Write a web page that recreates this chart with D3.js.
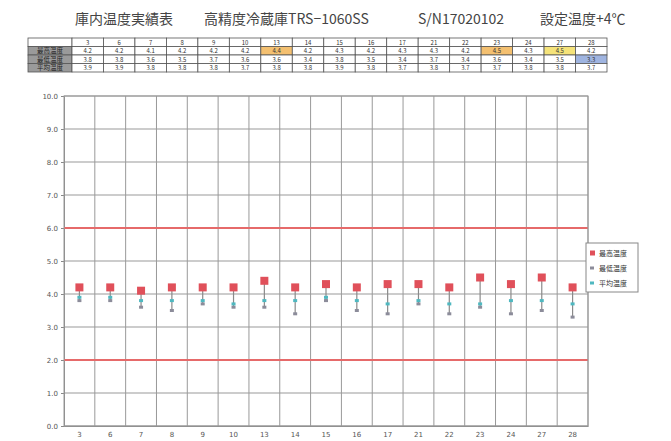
<!DOCTYPE html>
<html>
<head>
<meta charset="utf-8">
<script src="https://cdn.jsdelivr.net/npm/d3@7"></script>
<style>
  body { margin: 0; background: #fff; }
  text { font-family: "Noto Sans CJK JP", "DejaVu Sans", sans-serif; }
</style>
</head>
<body>
<div id="chart-area"></div>
<script>
// data
const days = ['3', '6', '7', '8', '9', '10', '13', '14', '15', '16', '17', '21', '22', '23', '24', '27', '28'];
const maxTemp = [4.2, 4.2, 4.1, 4.2, 4.2, 4.2, 4.4, 4.2, 4.3, 4.2, 4.3, 4.3, 4.2, 4.5, 4.3, 4.5, 4.2];
const minTemp = [3.8, 3.8, 3.6, 3.5, 3.7, 3.6, 3.6, 3.4, 3.8, 3.5, 3.4, 3.7, 3.4, 3.6, 3.4, 3.5, 3.3];
const avgTemp = [3.9, 3.9, 3.8, 3.8, 3.8, 3.7, 3.8, 3.8, 3.9, 3.8, 3.7, 3.8, 3.7, 3.7, 3.8, 3.8, 3.7];
const yTicks = [0, 1, 2, 3, 4, 5, 6, 7, 8, 9, 10];
const limits = [6, 2];
const seriesNames = ['最高温度', '最低温度', '平均温度'];
const titleParts = ['庫内温度実績表', '高精度冷蔵庫TRS−1060SS', 'S/N17020102', '設定温度+4℃'];

const width = 671, height = 441;
const plot = { left: 64, right: 588, top: 96, bottom: 426 };

const svg = d3.select('#chart-area').append('svg')
    .attr('width', width)
    .attr('height', height);

// title, placed in pieces like the original
const titleX = [75, 204, 418, 540];
svg.selectAll('text.title').data(titleParts).enter().append('text')
    .attr('class', 'title')
    .attr('x', (d, i) => titleX[i])
    .attr('y', 24)
    .attr('font-size', '14px')
    .attr('fill', '#444')
    .text(d => d);

// ---- table above the chart ----
const tbl = { left: 28, labelW: 44, right: 607, top: 38, rowH: 8.5 };
const tx = d3.scaleBand()
    .domain(days)
    .range([tbl.left + tbl.labelW, tbl.right]);
const rows = [
    { name: '', values: days, fmt: d => d },
    { name: seriesNames[0], values: maxTemp, fmt: d => d.toFixed(1) },
    { name: seriesNames[1], values: minTemp, fmt: d => d.toFixed(1) },
    { name: seriesNames[2], values: avgTemp, fmt: d => d.toFixed(1) }
];
// highlighted cells (extremes)
const hiMax = d3.max(maxTemp), loMin = d3.min(minTemp);
const cellFill = (r, i) => {
    if (r === 1 && maxTemp[i] === hiMax) return i === 15 ? '#f5e37a' : '#f4c070';
    if (r === 1 && maxTemp[i] === 4.4) return '#f4c070';
    if (r === 2 && minTemp[i] === loMin) return '#9fb4e0';
    return '#fff';
};
const tg = svg.append('g').attr('class', 'table');
rows.forEach((r, ri) => {
    const y = tbl.top + ri * tbl.rowH;
    tg.append('rect')
        .attr('x', tbl.left).attr('y', y)
        .attr('width', tbl.labelW).attr('height', tbl.rowH)
        .attr('fill', ri === 0 ? '#fff' : '#9a9a9a')
        .attr('stroke', '#555').attr('stroke-width', 0.8);
    tg.append('text')
        .attr('x', tbl.left + tbl.labelW / 2).attr('y', y + tbl.rowH - 1.8)
        .attr('text-anchor', 'middle').attr('font-size', '6.5px').attr('fill', '#222')
        .text(r.name);
    r.values.forEach((v, i) => {
        tg.append('rect')
            .attr('x', tx(days[i])).attr('y', y)
            .attr('width', tx.bandwidth()).attr('height', tbl.rowH)
            .attr('fill', cellFill(ri, i))
            .attr('stroke', '#555').attr('stroke-width', 0.8);
        tg.append('text')
            .attr('x', tx(days[i]) + tx.bandwidth() / 2).attr('y', y + tbl.rowH - 1.8)
            .attr('text-anchor', 'middle').attr('font-size', '6px').attr('fill', '#333')
            .text(r.fmt(v));
    });
});

// ---- chart ----
const x = d3.scaleBand()
    .domain(days)
    .range([plot.left, plot.right]);
const y = d3.scaleLinear()
    .domain([0, 10])
    .range([plot.bottom, plot.top]);

// horizontal grid
svg.append('g').selectAll('line').data(yTicks).enter().append('line')
    .attr('x1', plot.left).attr('x2', plot.right)
    .attr('y1', d => y(d)).attr('y2', d => y(d))
    .attr('stroke', '#999').attr('stroke-width', 1);

// vertical grid at band edges
svg.append('g').selectAll('line').data(days).enter().append('line')
    .attr('x1', d => x(d) + x.bandwidth()).attr('x2', d => x(d) + x.bandwidth())
    .attr('y1', plot.top).attr('y2', plot.bottom)
    .attr('stroke', '#999').attr('stroke-width', 1);

// y axis
const yAxis = svg.append('g')
    .attr('transform', `translate(${plot.left},0)`)
    .call(d3.axisLeft(y).tickValues(yTicks).tickFormat(d3.format('.1f')).tickSize(3));
yAxis.select('.domain').attr('stroke', '#888');
yAxis.selectAll('line').attr('stroke', '#888');
yAxis.selectAll('text').attr('font-size', '7px').attr('fill', '#555')
    .style('font-family', '"DejaVu Sans", sans-serif');

// x axis
const xAxis = svg.append('g')
    .attr('transform', `translate(0,${plot.bottom})`)
    .call(d3.axisBottom(x).tickSize(0).tickPadding(6));
xAxis.select('.domain').attr('stroke', '#888');
xAxis.selectAll('text').attr('font-size', '7px').attr('fill', '#555')
    .style('font-family', '"DejaVu Sans", sans-serif');

// limit lines
svg.append('g').selectAll('line').data(limits).enter().append('line')
    .attr('x1', plot.left).attr('x2', plot.right)
    .attr('y1', d => y(d)).attr('y2', d => y(d))
    .attr('stroke', '#e66a6a').attr('stroke-width', 1.8);

// high-low lines
const cx = d => x(d) + x.bandwidth() / 2;
svg.append('g').selectAll('line').data(days).enter().append('line')
    .attr('x1', d => cx(d)).attr('x2', d => cx(d))
    .attr('y1', (d, i) => y(maxTemp[i])).attr('y2', (d, i) => y(minTemp[i]))
    .attr('stroke', '#8a8a8a').attr('stroke-width', 1.2);

// min markers
svg.append('g').selectAll('rect').data(days).enter().append('rect')
    .attr('x', d => cx(d) - 2).attr('y', (d, i) => y(minTemp[i]) - 1.5)
    .attr('width', 4).attr('height', 3)
    .attr('fill', '#8c8c9a');

// avg markers
svg.append('g').selectAll('rect').data(days).enter().append('rect')
    .attr('x', d => cx(d) - 2).attr('y', (d, i) => y(avgTemp[i]) - 1.5)
    .attr('width', 4).attr('height', 3)
    .attr('fill', '#4fb8c0');

// max markers
svg.append('g').selectAll('rect').data(days).enter().append('rect')
    .attr('x', d => cx(d) - 4).attr('y', (d, i) => y(maxTemp[i]) - 4)
    .attr('width', 8).attr('height', 8)
    .attr('fill', '#e0505a');

// plot border
svg.append('rect')
    .attr('x', plot.left).attr('y', plot.top)
    .attr('width', plot.right - plot.left).attr('height', plot.bottom - plot.top)
    .attr('fill', 'none').attr('stroke', '#999');

// legend
const lg = svg.append('g').attr('transform', 'translate(586,243)');
lg.append('rect').attr('width', 52).attr('height', 49)
    .attr('fill', '#fff').attr('stroke', '#888');
const legendColors = ['#e0505a', '#8c8c9a', '#4fb8c0'];
seriesNames.forEach((n, i) => {
    const ly = 10 + i * 15;
    lg.append('rect').attr('x', 4).attr('y', ly - (i === 0 ? 2.5 : 1.5))
        .attr('width', i === 0 ? 5 : 4).attr('height', i === 0 ? 5 : 3)
        .attr('fill', legendColors[i]);
    lg.append('text').attr('x', 13).attr('y', ly + 2.5)
        .attr('font-size', '7px').attr('fill', '#333').text(n);
});
</script>
</body>
</html>
